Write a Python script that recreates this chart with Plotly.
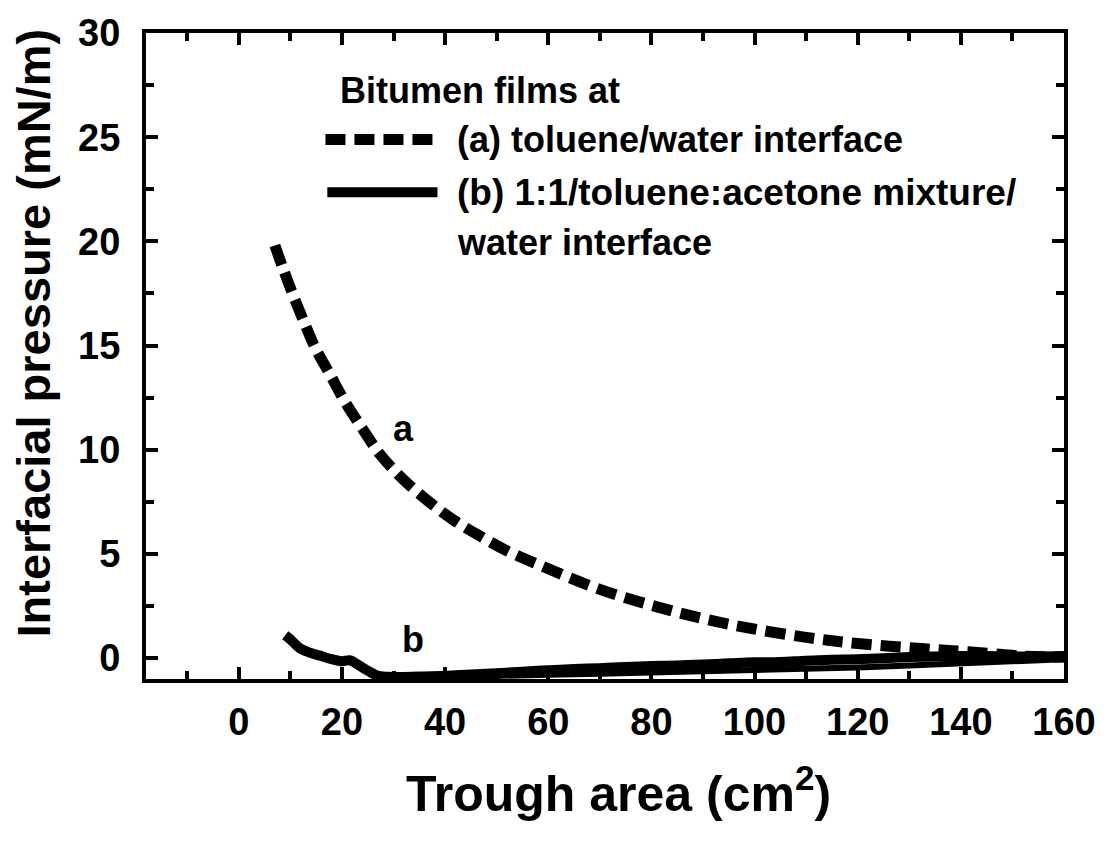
import plotly.graph_objects as go

# Curve a: toluene/water interface
area_a = [7, 8.5, 10.4, 12.7, 14.8, 17.7, 20.6, 24, 27.3, 32, 36.9, 41.5, 46.5, 52, 58, 70, 82, 90, 99, 110, 120, 133, 142, 152, 160]
pres_a = [19.8, 18.75, 17.5, 16.1, 14.9, 13.6, 12.3, 11.0, 9.8, 8.55, 7.5, 6.65, 5.9, 5.15, 4.5, 3.3, 2.4, 1.9, 1.44, 1.0, 0.7, 0.45, 0.3, 0.1, 0.05]

# Curve b: 1:1 toluene:acetone mixture/water interface (upper trace of band)
area_b = [9, 10, 12, 14, 16, 18, 20, 21.5, 23, 25, 27, 30, 35, 40, 45, 50, 55, 60, 65, 70, 75, 80, 85, 90, 95, 100, 105, 110, 115, 120, 125, 130, 135, 140, 145, 150, 155, 160]
pres_b = [1.1, 0.9, 0.45, 0.25, 0.1, -0.05, -0.15, -0.1, -0.3, -0.6, -0.85, -0.9, -0.88, -0.85, -0.78, -0.72, -0.65, -0.58, -0.52, -0.48, -0.42, -0.38, -0.35, -0.3, -0.25, -0.2, -0.18, -0.12, -0.08, -0.05, 0.0, 0.05, 0.08, 0.1, 0.1, 0.08, 0.08, 0.1]

# lower edge of the b band
area_b2 = [30, 40, 50, 60, 70, 80, 90, 100, 110, 120, 130, 140, 150, 160]
pres_b2 = [-0.95, -0.92, -0.88, -0.8, -0.75, -0.7, -0.65, -0.6, -0.5, -0.45, -0.35, -0.25, -0.15, -0.05]

x_ticks = [0, 20, 40, 60, 80, 100, 120, 140, 160]
y_ticks = [0, 5, 10, 15, 20, 25, 30]

FONT = "Liberation Sans, Arial, sans-serif"
BLACK = "#000000"

fig = go.Figure()
fig.add_trace(go.Scatter(x=area_b2, y=pres_b2, mode="lines",
                         line=dict(color=BLACK, width=6), showlegend=False))
fig.add_trace(go.Scatter(x=area_b, y=pres_b, mode="lines",
                         line=dict(color=BLACK, width=10, shape="spline"), showlegend=False))
fig.add_trace(go.Scatter(x=area_a, y=pres_a, mode="lines",
                         line=dict(color=BLACK, width=11, dash="20px,9px", shape="spline"),
                         showlegend=False))

axis_common = dict(
    showline=True, linecolor=BLACK, linewidth=4, mirror="ticks",
    ticks="inside", ticklen=12, tickwidth=4, tickcolor=BLACK,
    showgrid=False, zeroline=False,
    tickfont=dict(family=FONT, size=38, color=BLACK, weight="bold"),
)

fig.update_xaxes(range=[-18, 160], tickvals=x_ticks, ticktext=[str(v) for v in x_ticks],
                 minor=dict(dtick=10, tick0=0, ticks="inside", ticklen=8, tickwidth=4, tickcolor=BLACK),
                 ticklabelstandoff=6, **axis_common)
fig.update_yaxes(range=[-1, 30], tickvals=y_ticks, ticktext=[str(v) for v in y_ticks],
                 minor=dict(dtick=2.5, tick0=0, ticks="inside", ticklen=8, tickwidth=4, tickcolor=BLACK),
                 ticklabelstandoff=14, **axis_common)

def legend_text(txt, y, x=0.337, size=36):
    return dict(text=txt, xref="paper", yref="paper", x=x, y=y,
                xanchor="left", yanchor="middle", showarrow=False,
                font=dict(family=FONT, size=size, color=BLACK, weight="bold"))

annotations = [
    dict(text="Trough area (cm<sup>2</sup>)", xref="paper", yref="paper", x=0.515, y=-0.172,
         xanchor="center", yanchor="middle", showarrow=False,
         font=dict(family=FONT, size=50, color=BLACK, weight="bold")),
    dict(text="Interfacial pressure (mN/m)", xref="paper", yref="paper", x=-0.123, y=0.535,
         xanchor="center", yanchor="middle", textangle=-90, showarrow=False,
         font=dict(family=FONT, size=47, color=BLACK, weight="bold")),
    dict(text="a", x=31.9, y=11.0, xref="x", yref="y", showarrow=False,
         font=dict(family=FONT, size=36, color=BLACK, weight="bold")),
    dict(text="b", x=33.8, y=0.9, xref="x", yref="y", showarrow=False,
         font=dict(family=FONT, size=36, color=BLACK, weight="bold")),
    legend_text("Bitumen films at", 0.9106, x=0.2095),
    legend_text("(a) toluene/water interface", 0.835),
    legend_text("(b) 1:1/toluene:acetone mixture/", 0.7535, size=37),
    legend_text("water interface", 0.6764),
]

shapes = [
    dict(type="line", xref="paper", yref="paper", x0=0.1955, x1=0.3175, y0=0.835, y1=0.835,
         line=dict(color=BLACK, width=11, dash="20px,9px")),
    dict(type="line", xref="paper", yref="paper", x0=0.1975, x1=0.3175, y0=0.7535, y1=0.7535,
         line=dict(color=BLACK, width=10)),
]

fig.update_layout(
    width=1108, height=841,
    margin=dict(l=146, r=36, t=30, b=162),
    paper_bgcolor="white", plot_bgcolor="white",
    annotations=annotations, shapes=shapes,
    showlegend=False,
)

fig.write_html("out.html")
